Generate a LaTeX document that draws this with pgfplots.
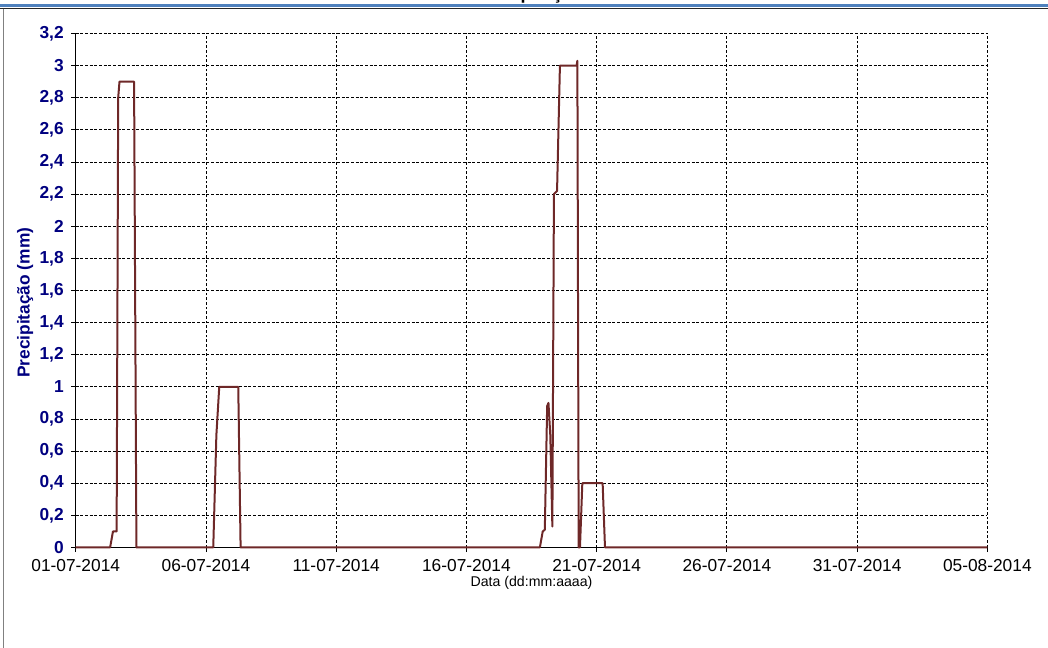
\documentclass[border=0pt]{standalone}
\usepackage{pgfplots}
\pgfplotsset{compat=1.18}
\usepackage{fontspec}
\setmainfont{Liberation Sans}
\definecolor{serie}{RGB}{110,40,40}
\definecolor{rotulo}{RGB}{0,0,128}
\definecolor{faixa}{RGB}{79,129,189}
\begin{document}
\begin{tikzpicture}
% moldura e faixa azul (coordenadas em px, origem em baixo)
\begin{scope}[x=0.75pt,y=0.75pt]
\fill[faixa] (0,641) rectangle (1048,643.5);
\draw[black!85,line width=0.75pt] (0,639.3) -- (1048,639.3);
\draw[black!50,line width=0.75pt] (3.5,639.3) -- (3.5,0);
\begin{scope}
\clip (0,648) rectangle (1048,643.5);
\node[anchor=base,font=\fontsize{13.5}{15}\selectfont\bfseries,inner sep=0pt] at (530,648.5) {Precipitação};
\end{scope}
\end{scope}

\begin{axis}[
at={(56.8pt,75.4pt)},
anchor=south west,
scale only axis,
width=683.7pt,
height=385.5pt,
xmin=0, xmax=35,
ymin=0, ymax=3.2,
axis lines*=left,
axis line style={black,line width=0.75pt},
clip=false,
grid=major,
major grid style={black,line width=0.6pt,dash pattern=on 2.2pt off 1.3pt},
tick align=outside,
major tick length=3.5pt,
tick style={black,line width=0.6pt},
xtick={0,5,10,15,20,25,30,35},
xticklabels={01-07-2014,06-07-2014,11-07-2014,16-07-2014,21-07-2014,26-07-2014,31-07-2014,05-08-2014},
ytick={0,0.2,0.4,0.6,0.8,1,1.2,1.4,1.6,1.8,2,2.2,2.4,2.6,2.8,3,3.2},
/pgf/number format/assume math mode=true,
/pgf/number format/use comma,
yticklabel style={font=\fontsize{13}{15}\selectfont\bfseries,text=rotulo,xshift=-2pt},
xticklabel style={font=\fontsize{13}{15}\selectfont,text=black,yshift=-2pt},
xlabel={Data (dd:mm:aaaa)},
xlabel style={font=\fontsize{10.6}{12}\selectfont,at={(axis description cs:0.5,-0.068)},anchor=center},
ylabel={Precipitação (mm)},
ylabel style={font=\fontsize{13}{15}\selectfont\bfseries,text=rotulo,at={(axis description cs:-0.0555,0.476)},anchor=center},
]
\addplot[serie,line width=1.5pt,line join=round] coordinates {
(0,0) (1.32,0) (1.43,0.1) (1.57,0.1) (1.63,2.8) (1.68,2.9) (2.24,2.9) (2.33,0)
(5.28,0) (5.40,0.7) (5.51,1.0) (6.24,1.0) (6.33,0)
(17.82,0) (17.93,0.1) (18.01,0.11) (18.10,0.88) (18.15,0.9) (18.22,0.7) (18.30,0.13)
(18.36,2.2) (18.48,2.22) (18.59,3.0) (19.23,3.0) (19.26,3.03) (19.31,0)
(19.36,0) (19.45,0.4) (20.23,0.4) (20.32,0) (35,0)
};
\end{axis}
\pgfresetboundingbox
\useasboundingbox (0,0) rectangle (786pt,486pt);
\end{tikzpicture}
\end{document}
